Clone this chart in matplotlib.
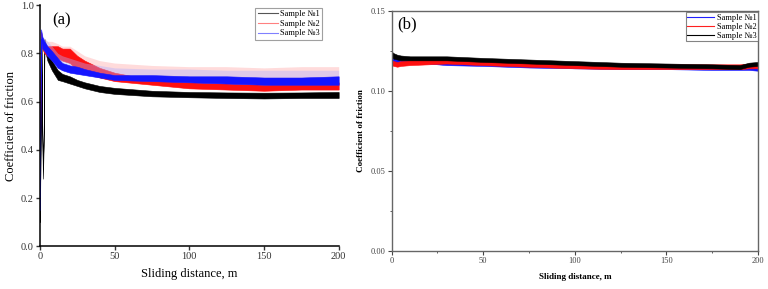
import matplotlib
matplotlib.use("Agg")
import matplotlib.pyplot as plt
from matplotlib.lines import Line2D
from matplotlib.ticker import MultipleLocator

plt.rcParams['font.family'] = ['Liberation Serif', 'DejaVu Serif']

# ---------------- Panel (a) data: band envelopes (lower / upper) ----------------
a_x = [0, 0.4, 0.8, 1.5, 3, 5, 8, 12, 15, 20, 25, 30, 40, 50, 75, 100, 125, 150, 175, 200]

a_blue_lo = [0.15, 0.60, 0.86, 0.82, 0.81, 0.79, 0.77, 0.74, 0.73, 0.72, 0.715, 0.71, 0.70, 0.69,
             0.685, 0.68, 0.675, 0.67, 0.67, 0.67]
a_blue_hi = [0.20, 0.70, 0.90, 0.87, 0.85, 0.83, 0.81, 0.78, 0.76, 0.75, 0.745, 0.735, 0.72, 0.71,
             0.71, 0.705, 0.705, 0.70, 0.70, 0.705]
a_blue_spike = [0.20, 0.70, 0.90, 0.88, 0.86, 0.85, 0.83, 0.80, 0.79, 0.78, 0.77, 0.76, 0.75, 0.74,
                0.735, 0.735, 0.73, 0.73, 0.73, 0.73]

a_red_lo = [0.20, 0.70, 0.85, 0.82, 0.80, 0.79, 0.79, 0.78, 0.77, 0.76, 0.73, 0.72, 0.70, 0.685,
            0.67, 0.655, 0.65, 0.645, 0.65, 0.65]
a_red_hi = [0.30, 0.78, 0.89, 0.86, 0.84, 0.83, 0.83, 0.83, 0.82, 0.82, 0.79, 0.77, 0.74, 0.72,
            0.69, 0.68, 0.675, 0.67, 0.675, 0.68]
a_red_spike = [0.30, 0.78, 0.89, 0.87, 0.86, 0.85, 0.85, 0.84, 0.83, 0.83, 0.81, 0.79, 0.77, 0.76,
               0.75, 0.745, 0.745, 0.74, 0.745, 0.745]

a_black_x = [0, 0.5, 1, 1.5, 2, 2.5, 3, 3.5, 5, 8, 12, 15, 20, 25, 30, 40, 50, 75, 100, 125, 150, 175, 200]
a_black_lo = [0.10, 0.45, 0.83, 0.48, 0.28, 0.42, 0.82, 0.81, 0.77, 0.73, 0.69, 0.685, 0.675, 0.665,
              0.655, 0.64, 0.632, 0.622, 0.618, 0.615, 0.613, 0.615, 0.615]
a_black_hi = [0.12, 0.50, 0.86, 0.52, 0.32, 0.47, 0.86, 0.85, 0.81, 0.77, 0.73, 0.715, 0.705, 0.69,
              0.68, 0.665, 0.657, 0.645, 0.64, 0.638, 0.637, 0.638, 0.64]

a_labels = ['Sample №1', 'Sample №2', 'Sample №3']

# ---------------- Panel (b) data ----------------
b_x = [0, 1, 3, 5, 10, 20, 30, 50, 75, 100, 125, 150, 175, 190, 195, 200]
b_blue_lo = [0.119, 0.118, 0.117, 0.117, 0.117, 0.117, 0.116, 0.1155, 0.1145, 0.114, 0.1135, 0.1135,
             0.113, 0.113, 0.113, 0.1125]
b_blue_hi = [0.122, 0.121, 0.120, 0.119, 0.119, 0.119, 0.1185, 0.1175, 0.1165, 0.116, 0.1155, 0.1155,
             0.115, 0.115, 0.115, 0.1145]
b_red_lo = [0.116, 0.1155, 0.115, 0.1155, 0.116, 0.1165, 0.117, 0.116, 0.115, 0.114, 0.1135, 0.1135,
            0.1135, 0.1135, 0.114, 0.114]
b_red_hi = [0.119, 0.1185, 0.118, 0.1185, 0.119, 0.1195, 0.120, 0.119, 0.118, 0.117, 0.1165, 0.1165,
            0.1165, 0.1165, 0.117, 0.117]
b_black_lo = [0.121, 0.120, 0.1195, 0.119, 0.119, 0.119, 0.119, 0.118, 0.117, 0.116, 0.115, 0.1145,
              0.114, 0.1135, 0.115, 0.1155]
b_black_hi = [0.1245, 0.1235, 0.1225, 0.122, 0.1215, 0.1215, 0.1215, 0.1205, 0.1195, 0.1185, 0.1175,
              0.117, 0.1165, 0.116, 0.1175, 0.118]
b_labels = ['Sample №1', 'Sample №2', 'Sample №3']

fig = plt.figure(figsize=(7.68, 2.89), dpi=100)

# ---------------- Panel (a) ----------------
ax1 = fig.add_axes([0.052, 0.148, 0.389, 0.834])
ax1.fill_between(a_black_x, a_black_lo, a_black_hi, color='black', lw=0.4, ec='black')
ax1.fill_between(a_x, a_red_lo, a_red_spike, color='#ffb0b0', lw=0, alpha=0.45)
ax1.fill_between(a_x, a_red_lo, a_red_hi, color='#ff1010', lw=0.4, ec='#ff1010')
ax1.fill_between(a_x, a_blue_lo, a_blue_spike, color='#b0b0ff', lw=0, alpha=0.4)
ax1.fill_between(a_x, a_blue_lo, a_blue_hi, color='#1515ff', lw=0.4, ec='#1515ff')
ax1.set_xlim(0, 200)
ax1.set_ylim(0, 1.0)
ax1.set_xticks([0, 50, 100, 150, 200])
ax1.set_yticks([0.0, 0.2, 0.4, 0.6, 0.8, 1.0])
ax1.yaxis.set_major_formatter(matplotlib.ticker.FormatStrFormatter('%.1f'))
for s in ['top', 'right']:
    ax1.spines[s].set_visible(False)
for s in ['left', 'bottom']:
    ax1.spines[s].set_linewidth(1.1)
ax1.tick_params(direction='out', length=3, width=1, labelsize=7.5, colors='#333333', pad=1.5)
ax1.set_xlabel('Sliding distance, m', fontsize=9, labelpad=5)
ax1.set_ylabel('Coefficient of friction', fontsize=9, labelpad=3)
ax1.text(0.04, 0.97, '(a)', transform=ax1.transAxes, fontsize=12, va='top', ha='left')
h1 = [Line2D([], [], color='#555555', lw=0.8),
      Line2D([], [], color='#ff8080', lw=0.8),
      Line2D([], [], color='#8080ff', lw=0.8)]
leg1 = ax1.legend(h1, a_labels, loc='upper right', bbox_to_anchor=(0.945, 0.99), fontsize=6,
                  frameon=True, fancybox=False, edgecolor='#888888', handlelength=2.4,
                  handletextpad=0.3, labelspacing=0.2, borderpad=0.3, borderaxespad=0)
leg1.get_frame().set_linewidth(0.8)

# ---------------- Panel (b) ----------------
ax2 = fig.add_axes([0.510, 0.132, 0.477, 0.831])
ax2.fill_between(b_x, b_blue_lo, b_blue_hi, color='#1515ff', lw=0.4, ec='#1515ff')
ax2.fill_between(b_x, b_red_lo, b_red_hi, color='#ff1010', lw=0.4, ec='#ff1010')
ax2.fill_between(b_x, b_black_lo, b_black_hi, color='black', lw=0.4, ec='black')
ax2.set_xlim(0, 200)
ax2.set_ylim(0, 0.15)
ax2.set_xticks([0, 50, 100, 150, 200])
ax2.set_yticks([0.00, 0.05, 0.10, 0.15])
ax2.yaxis.set_major_formatter(matplotlib.ticker.FormatStrFormatter('%.2f'))
ax2.xaxis.set_minor_locator(MultipleLocator(25))
ax2.yaxis.set_minor_locator(MultipleLocator(0.025))
for s in ax2.spines.values():
    s.set_linewidth(1.0)
    s.set_color('#666666')
ax2.tick_params(which='major', direction='out', length=3, width=0.8, labelsize=6,
                colors='#444444', pad=1.5)
ax2.tick_params(which='minor', direction='out', length=1.5, width=0.6, colors='#444444')
ax2.set_xlabel('Sliding distance, m', fontsize=6.5, fontweight='bold', labelpad=6)
ax2.set_ylabel('Coefficient of friction', fontsize=6.5, fontweight='bold', labelpad=4)
ax2.text(0.016, 0.975, '(b)', transform=ax2.transAxes, fontsize=12, va='top', ha='left')
h2 = [Line2D([], [], color='#2020ff', lw=0.8),
      Line2D([], [], color='#ff2020', lw=0.8),
      Line2D([], [], color='black', lw=0.8)]
leg2 = ax2.legend(h2, b_labels, loc='upper right', bbox_to_anchor=(1.0, 0.995), fontsize=6,
                  frameon=True, fancybox=False, edgecolor='#666666', handlelength=3.2,
                  handletextpad=0.3, labelspacing=0.12, borderpad=0.2, borderaxespad=0)
leg2.get_frame().set_linewidth(0.8)

fig.savefig('out.png', dpi=100)
